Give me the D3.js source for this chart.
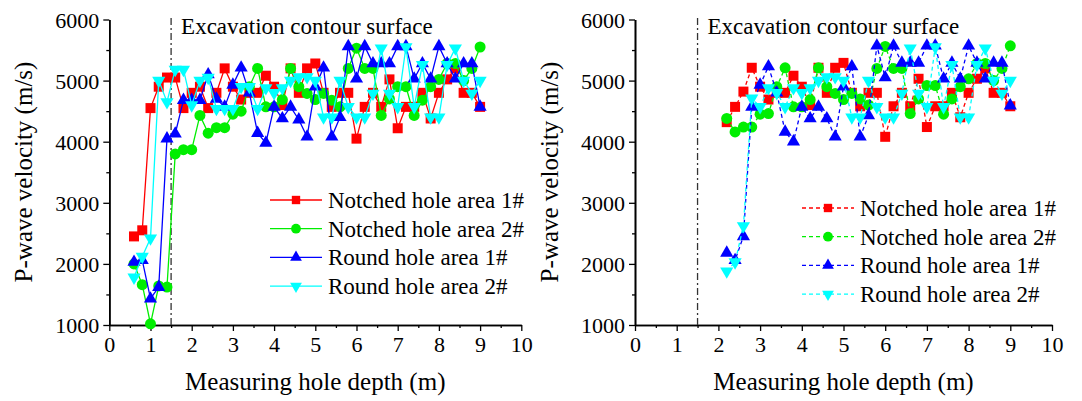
<!DOCTYPE html>
<html>
<head>
<meta charset="utf-8">
<script src="https://cdn.jsdelivr.net/npm/d3@7"></script>
<style>
  body { margin: 0; background: #fff; }
  svg text { font-family: "Liberation Serif", "Times New Roman", serif; fill: #000; }
</style>
</head>
<body>
<svg width="1082" height="401"></svg>
<script>
// depth of each measuring point (m)
const depthLeft = [0.6, 0.8, 1.0, 1.2, 1.4, 1.6, 1.8, 2.0, 2.2, 2.4, 2.6, 2.8, 3.0, 3.2, 3.4, 3.6, 3.8, 4.0, 4.2, 4.4, 4.6, 4.8,
                   5.0, 5.2, 5.4, 5.6, 5.8, 6.0, 6.2, 6.4, 6.6, 6.8, 7.0, 7.2, 7.4, 7.6, 7.8, 8.0, 8.2, 8.4, 8.6, 8.8, 9.0];
const depthRight = [2.2, 2.4, 2.6, 2.8, 3.0, 3.2, 3.4, 3.6, 3.8, 4.0, 4.2, 4.4, 4.6, 4.8,
                    5.0, 5.2, 5.4, 5.6, 5.8, 6.0, 6.2, 6.4, 6.6, 6.8, 7.0, 7.2, 7.4, 7.6, 7.8, 8.0, 8.2, 8.4, 8.6, 8.8, 9.0];

// left panel, P-wave velocity (m/s)
const notched1Left = [2450, 2550, 4550, 4900, 5050, 5050, 4550, 4800, 4900, 4550, 4800, 5200, 4900, 4690, 4800, 4800, 5080, 4900, 4600, 5200, 4800, 5200,
                      5280, 4800, 4570, 4800, 4800, 4050, 4570, 4800, 4570, 5020, 4220, 4570, 4570, 4800, 4380, 4800, 5020, 5200, 4800, 4800, 4570];
const notched2Left = [2000, 1660, 1020, 1640, 1620, 3800, 3870, 3870, 4430, 4140, 4230, 4230, 4450, 4500, 4900, 5200, 4570, 4570, 4690, 5200, 4900, 4790,
                      4690, 4790, 4680, 4570, 5200, 5530, 5200, 5200, 4430, 4700, 4900, 4900, 4430, 4680, 4900, 5020, 5280, 5280, 5000, 5200, 5550];
const round1Left = [2030, 2060, 1430, 1620, 4050, 4130, 4680, 4680, 4680, 5100, 4700, 4570, 4930, 5210, 4800, 4140, 3980, 4570, 4380, 4570, 4360, 4080,
                    4900, 5210, 4080, 4400, 5560, 5030, 5560, 5280, 5280, 5280, 5560, 5560, 5030, 5280, 5030, 5560, 5280, 5030, 5280, 5280, 4570];
const round2Left = [1780, 2120, 2420, 5000, 4650, 5180, 5180, 4600, 5000, 5050, 4540, 4540, 4540, 4900, 4900, 4540, 4880, 4800, 4880, 5000, 5060, 5060,
                    5000, 4400, 4400, 5000, 4570, 4400, 4400, 4790, 5530, 4790, 4570, 5550, 4570, 5260, 4400, 4400, 5260, 5530, 5000, 4790, 5000];

// right panel, P-wave velocity (m/s)
const notched1Right = [4320, 4570, 4820, 5210, 4900, 4690, 4800, 4800, 5080, 4900, 4600, 5210, 4800, 5210,
                       5290, 4800, 4580, 4800, 4800, 4080, 4580, 4800, 4580, 5030, 4240, 4580, 4580, 4800, 4400, 4800, 5030, 5200, 4800, 4800, 4580];
const notched2Right = [4380, 4160, 4240, 4240, 4450, 4460, 4900, 5210, 4570, 4570, 4690, 5210, 4900, 4790,
                       4690, 4790, 4700, 4600, 5200, 5560, 5200, 5200, 4460, 4700, 4920, 4920, 4450, 4700, 4900, 5030, 5280, 5280, 5000, 5200, 5570];
const round1Right = [2180, 2060, 2450, 4570, 4930, 5230, 4800, 4160, 4000, 4570, 4380, 4570, 4380, 4080,
                     4900, 5230, 4080, 4430, 5570, 5050, 5570, 5290, 5290, 5290, 5570, 5570, 5030, 5290, 5030, 5570, 5290, 5030, 5290, 5290, 4590];
const round2Right = [1880, 2030, 2620, 4710, 4570, 4880, 4800, 4570, 4880, 4800, 4880, 5000, 5060, 5060,
                     5000, 4400, 4400, 5000, 4570, 4400, 4400, 4790, 5530, 4790, 4570, 5550, 4570, 5260, 4400, 4400, 5260, 5530, 5000, 4790, 5000];

const seriesNames = ['Notched hole area 1#', 'Notched hole area 2#', 'Round hole area 1#', 'Round hole area 2#'];
const seriesColors = ['#ff0000', '#00ee00', '#0000ff', '#00ffff'];
const seriesSymbols = [d3.symbolSquare, d3.symbolCircle, d3.symbolTriangle, d3.symbolTriangle];

const xTicks = [0, 1, 2, 3, 4, 5, 6, 7, 8, 9, 10];
const yTicks = [1000, 2000, 3000, 4000, 5000, 6000];
const contourDepth = 1.5;

var serif = '"Liberation Serif", "Times New Roman", serif';
var svg = d3.select('svg');

function symbolPath(i, size) {
  return d3.symbol().type(seriesSymbols[i]).size(size)();
}

function drawPanel(opt) {
  var x = d3.scaleLinear().domain([0, 10]).range([opt.left, opt.right]);
  var y = d3.scaleLinear().domain([1000, 6000]).range([325, 19.5]);
  var g = svg.append('g');

  // minor ticks
  g.append('g')
    .attr('transform', 'translate(0,325)')
    .call(d3.axisBottom(x).tickValues(d3.range(0.5, 10, 1)).tickSize(3).tickSizeOuter(0).tickFormat(''));
  g.append('g')
    .attr('transform', 'translate(' + opt.left + ',0)')
    .call(d3.axisLeft(y).tickValues(d3.range(1500, 6000, 1000)).tickSize(3).tickSizeOuter(0).tickFormat(''));

  var xAxis = g.append('g')
    .attr('transform', 'translate(0,325)')
    .call(d3.axisBottom(x).tickValues(xTicks).tickFormat(d3.format('d')).tickSize(6).tickSizeOuter(0).tickPadding(4));
  var yAxis = g.append('g')
    .attr('transform', 'translate(' + opt.left + ',0)')
    .call(d3.axisLeft(y).tickValues(yTicks).tickFormat(d3.format('d')).tickSize(6).tickSizeOuter(0).tickPadding(4));

  g.selectAll('.domain').attr('stroke', '#000').attr('stroke-width', 1.6);
  g.selectAll('.tick line').attr('stroke', '#000').attr('stroke-width', 1.3);
  xAxis.selectAll('text').style('font-family', serif).style('font-size', '22px').attr('dy', '0.75em');
  yAxis.selectAll('text').style('font-family', serif).style('font-size', '22px').attr('dy', '0.35em');

  // excavation contour line
  g.append('line')
    .attr('x1', x(contourDepth)).attr('x2', x(contourDepth))
    .attr('y1', 18).attr('y2', 325)
    .attr('stroke', '#333').attr('stroke-width', 1.3)
    .attr('stroke-dasharray', '7,3,2,3');

  g.append('text')
    .attr('x', x(contourDepth) + 10).attr('y', 34)
    .style('font-size', '23px')
    .text('Excavation contour surface');

  // axis titles
  g.append('text')
    .attr('x', (opt.left + opt.right) / 2).attr('y', 390)
    .attr('text-anchor', 'middle')
    .style('font-size', '25px')
    .text('Measuring hole depth (m)');
  g.append('text')
    .attr('transform', 'translate(' + (opt.left - 77) + ',172) rotate(-90)')
    .attr('text-anchor', 'middle')
    .style('font-size', '25px')
    .text('P-wave velocity (m/s)');

  var line = d3.line()
    .x(d => x(d[0]))
    .y(d => y(d[1]));

  opt.series.forEach((vals, i) => {
    var pts = opt.depth.map((d, k) => [d, vals[k]]);
    g.append('path')
      .datum(pts)
      .attr('d', line)
      .attr('fill', 'none')
      .attr('stroke', seriesColors[i])
      .attr('stroke-width', 1.3)
      .attr('stroke-dasharray', opt.dash);
    g.selectAll('.m' + i)
      .data(pts)
      .enter()
      .append('path')
      .attr('class', 'm' + i)
      .attr('d', symbolPath(i, i == 1 ? 95 : (i == 0 ? 100 : 75)))
      .attr('fill', seriesColors[i])
      .attr('transform', d => 'translate(' + x(d[0]) + ',' + y(d[1]) + ')' + (i == 3 ? ' rotate(180)' : ''));
  });

  // legend
  var leg = g.append('g');
  seriesNames.forEach((name, i) => {
    var ly = opt.legY + i * 28.7;
    leg.append('line')
      .attr('x1', opt.legX).attr('x2', opt.legX + 52)
      .attr('y1', ly).attr('y2', ly)
      .attr('stroke', seriesColors[i]).attr('stroke-width', 1.3)
      .attr('stroke-dasharray', opt.dash);
    leg.append('path')
      .attr('d', symbolPath(i, i == 1 ? 75 : (i == 0 ? 70 : 60)))
      .attr('fill', seriesColors[i])
      .attr('transform', 'translate(' + (opt.legX + 26) + ',' + ly + ')' + (i == 3 ? ' rotate(180)' : ''));
    leg.append('text')
      .attr('x', opt.legX + 58).attr('y', ly)
      .attr('dy', '0.35em')
      .style('font-size', '23px')
      .text(name);
  });
}

drawPanel({
  left: 109.3, right: 521.3,
  depth: depthLeft,
  series: [notched1Left, notched2Left, round1Left, round2Left],
  dash: null,
  legX: 270, legY: 200
});

drawPanel({
  left: 635, right: 1052,
  depth: depthRight,
  series: [notched1Right, notched2Right, round1Right, round2Right],
  dash: '4,3',
  legX: 802, legY: 208
});
</script>
</body>
</html>
